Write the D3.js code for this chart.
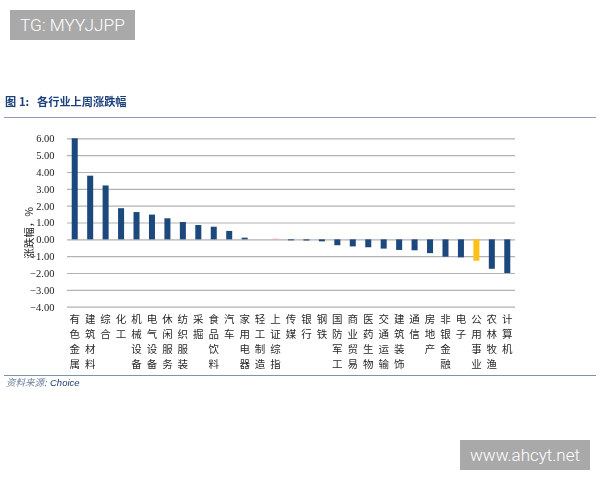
<!DOCTYPE html>
<html><head><meta charset="utf-8">
<script src="https://cdn.jsdelivr.net/npm/d3@7"></script>
<style>
html,body{margin:0;padding:0;background:#fff;overflow:hidden}
svg{display:block}
</style></head><body>
<svg id="c" width="600" height="480"></svg>
<script>
const categories = ["有色金属","建筑材料","综合","化工","机械设备","电气设备","休闲服务","纺织服装","采掘","食品饮料","汽车","家用电器","轻工制造","上证综指","传媒","银行","钢铁","国防军工","商业贸易","医药生物","交通运输","建筑装饰","通信","房地产","非银金融","电子","公用事业","农林牧渔","计算机"];
const values = [6.0,3.78,3.2,1.85,1.62,1.47,1.25,1.03,0.85,0.75,0.5,0.1,0.0,0.04,-0.06,-0.07,-0.12,-0.35,-0.42,-0.47,-0.55,-0.63,-0.65,-0.82,-1.03,-1.07,-1.27,-1.75,-2.0];
const yTicks = [6,5,4,3,2,1,0,-1,-2,-3,-4];
const barColor = "#1f497d";
const highlightColors = {"公用事业":"#fcc012","上证综指":"#eda5a0"};

const svg = d3.select("#c");
svg.append("defs").append("filter").attr("id","soft").attr("x","-5%").attr("y","-5%").attr("width","110%").attr("height","110%")
  .append("feGaussianBlur").attr("stdDeviation",0.35);
const chart = svg.append("g").attr("filter","url(#soft)");

const x = d3.scaleBand().domain(categories).range([67,515]).paddingInner(0.61).paddingOuter(0.305);
const y = d3.scaleLinear().domain([-4,6]).range([306.7,138.3]);
const serif = "'Liberation Serif',serif";
const cjk = "'Noto Sans CJK SC',sans-serif";
const light = "Roboto,'Liberation Sans',sans-serif";

const axis = d3.axisLeft(y).tickValues(yTicks).tickFormat(d3.format(".2f")).tickSize(-448).tickPadding(0);
const gA = chart.append("g").attr("transform","translate(67,0)").call(axis);
gA.attr("font-family",serif);
gA.select(".domain").remove();
gA.selectAll(".tick line").attr("stroke","#b2b2b2").attr("stroke-width",1.2);
gA.selectAll(".tick text").attr("x",-12.5).attr("font-family",serif).attr("font-size",10.5).attr("fill","#222");

chart.append("g").selectAll("rect").data(categories).join("rect")
  .attr("x",d=>x(d)).attr("width",x.bandwidth())
  .attr("y",(d,i)=>y(Math.max(0,values[i])))
  .attr("height",(d,i)=>Math.abs(y(values[i])-y(0)))
  .attr("fill",d=>highlightColors[d]||barColor);

const lab = chart.append("g").selectAll("text").data(categories).join("text")
  .attr("font-family",cjk).attr("font-size",10.5).attr("fill","#2a2a2a").attr("text-anchor","middle");
lab.each(function(d){
  const t=d3.select(this), cx=x(d)+x.bandwidth()/2;
  Array.from(d).forEach((ch,i)=>t.append("tspan").attr("x",cx).attr("y",323+i*15).text(ch));
});

chart.append("text").attr("transform","translate(33,233) rotate(-90)").attr("text-anchor","middle")
  .attr("font-family",cjk).attr("font-size",10.5).attr("fill","#222").text("涨跌幅，%");

const title = chart.append("text").attr("y",106).attr("font-family",cjk).attr("font-weight",700)
  .attr("font-size",11.2).attr("fill","#1a3f7a");
title.append("tspan").attr("x",5).text("图");
title.append("tspan").attr("x",19).text("1:");
title.append("tspan").attr("x",37).text("各行业上周涨跌幅");
chart.append("line").attr("x1",4).attr("x2",596).attr("y1",117.5).attr("y2",117.5).attr("stroke","#8f9db5").attr("stroke-width",1);
chart.append("line").attr("x1",4).attr("x2",596).attr("y1",375.5).attr("y2",375.5).attr("stroke","#7f94ab").attr("stroke-width",1.2);
const src = chart.append("text").attr("y",386).attr("font-size",9.5).attr("fill","#1f3f72");
src.append("tspan").attr("x",6).attr("font-family",cjk).attr("font-style","italic").attr("fill","#6d7f9c").text("资料来源:");
src.append("tspan").attr("x",50).attr("font-family","'Liberation Sans',sans-serif").attr("font-style","italic").text("Choice");

svg.append("rect").attr("x",10).attr("y",10).attr("width",125).attr("height",30).attr("fill","#a9a9a9");
svg.append("text").attr("x",20).attr("y",31).attr("font-family",light).attr("font-weight",300).attr("font-size",17.3).attr("fill","#fff").text("TG: MYYJJPP");
svg.append("rect").attr("x",460).attr("y",440).attr("width",130).attr("height",30).attr("fill","#a9a9a9");
svg.append("text").attr("x",470).attr("y",461).attr("font-family",light).attr("font-weight",300).attr("font-size",17).attr("fill","#fff").text("www.ahcyt.net");
</script>
</body></html>
